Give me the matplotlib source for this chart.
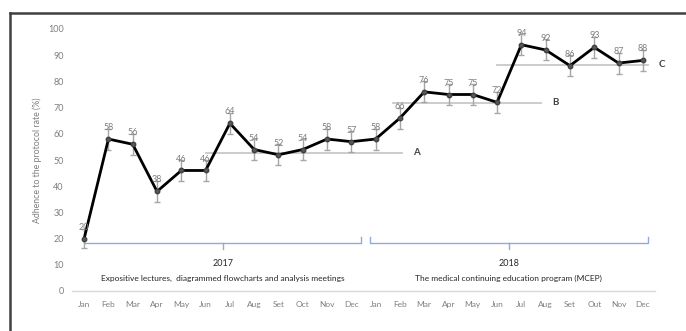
import matplotlib
matplotlib.use("Agg")
import matplotlib.pyplot as plt
from matplotlib.lines import Line2D

plt.rcParams['font.family'] = ['Lato', 'DejaVu Sans']

months = ["Jan", "Feb", "Mar", "Apr", "May", "Jun", "Jul", "Aug", "Set", "Oct", "Nov", "Dec",
          "Jan", "Feb", "Mar", "Apr", "May", "Jun", "Jul", "Aug", "Set", "Out", "Nov", "Dec"]
values = [20, 58, 56, 38, 46, 46, 64, 54, 52, 54, 58, 57,
          58, 66, 76, 75, 75, 72, 94, 92, 86, 93, 87, 88]
errors = [3.5, 4, 4, 4, 4, 4, 4, 4, 4, 4, 4, 4,
          4, 4, 4, 4, 4, 4, 4, 4, 4, 4, 4, 4]
yticks = [0, 10, 20, 30, 40, 50, 60, 70, 80, 90, 100]

# reference lines: (start index, end index, level, label)
ref_lines = [(5.0, 13.1, 52.7, "A"), (12.7, 18.8, 71.8, "B"), (17.0, 23.2, 86.3, "C")]
periods = [("2017", "Expositive lectures,  diagrammed flowcharts and analysis meetings", 0.0, 11.4),
           ("2018", "The medical continuing education program (MCEP)", 11.75, 23.2)]

fig = plt.figure(figsize=(6.86, 3.31), dpi=100)
ax = fig.add_axes([72/686, 1-291/331, 583/686, (291-29)/331])

x = list(range(len(values)))
gray = "#7F7F7F"

for x0, x1, lvl, lab in ref_lines:
    ax.plot([x0, x1], [lvl, lvl], color="#C8C8C8", lw=1.3, zorder=1)
    ax.text(x1 + 0.45, lvl, lab, fontsize=7, fontweight="bold", color="#404040",
            va="center", ha="left")

ax.errorbar(x, values, yerr=errors, fmt='none', ecolor="#A6A6A6", elinewidth=1.0,
            capsize=2.0, capthick=1.0, zorder=2)
ax.plot(x, values, color="black", lw=2.0, zorder=3, marker='o', markersize=3.2,
        markerfacecolor="#595959", markeredgecolor="#404040")

for xi, v in zip(x, values):
    ax.annotate(str(v), (xi, v), xytext=(0, 5), textcoords="offset points",
                ha="center", va="bottom", fontsize=6.5, color=gray)

bcol = "#8FAADC"
for yr, desc, x0, x1 in periods:
    yb = 18.3
    ax.plot([x0, x0, x1, x1], [20.6, yb, yb, 20.6], color=bcol, lw=1.0, zorder=1)
    xm = (x0 + x1) / 2
    ax.plot([xm, xm], [yb, 16.0], color=bcol, lw=1.0, zorder=1)
    ax.text(xm, 10.5, yr, ha="center", va="center", fontsize=6.5, color="#262626")
    ax.text(xm, 4.7, desc, ha="center", va="center", fontsize=6.0, color="#262626")

ax.set_xlim(-0.5, len(values) - 0.5)
ax.set_ylim(0, 100)
ax.set_yticks(yticks)
ax.set_xticks(x)
ax.set_xticklabels(months)
ax.tick_params(axis='x', length=0, labelsize=6, labelcolor=gray, pad=7)
ax.tick_params(axis='y', length=0, labelsize=6.5, labelcolor=gray, pad=6)
for s in ["top", "right", "left"]:
    ax.spines[s].set_visible(False)
ax.spines["bottom"].set_color("#D9D9D9")
ax.spines["bottom"].set_linewidth(1.0)
ax.set_ylabel("Adhence to the protocol rate (%)", fontsize=6.3, color=gray, labelpad=4)

# outer frame (top and left visible)
fig.add_artist(Line2D([10/686, 1.0], [1-13/331, 1-13/331], color="#404040", lw=1.8,
                      transform=fig.transFigure))
fig.add_artist(Line2D([10/686, 10/686], [0, 1-13/331], color="#404040", lw=1.8,
                      transform=fig.transFigure))

fig.savefig("out.png", dpi=100)
